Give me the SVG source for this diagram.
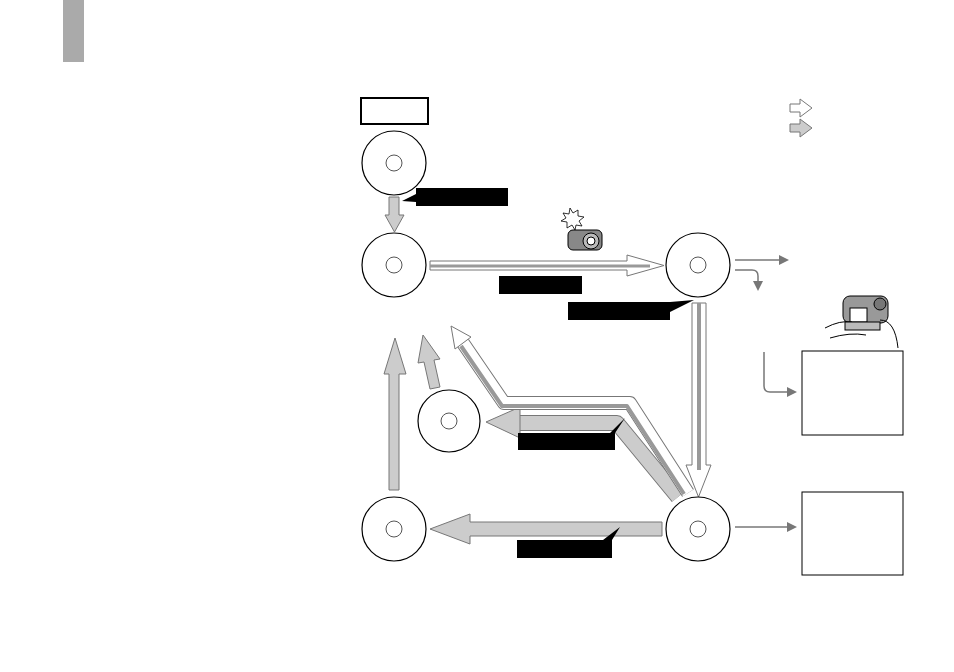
<svg xmlns="http://www.w3.org/2000/svg" width="954" height="672" viewBox="0 0 954 672">
<style>
.disk{fill:#fff;stroke:#000;stroke-width:1.2}
.hole{fill:#fff;stroke:#555;stroke-width:1}
.g{fill:#ccc;stroke:#777;stroke-width:1}
.w{fill:#fff;stroke:#777;stroke-width:1}
.lab{fill:#000}
.thin{fill:none;stroke:#777;stroke-width:1.5}
</style>
<defs>
<marker id="ah2" viewBox="0 0 10 10" markerWidth="10" markerHeight="10" refX="6" refY="5" orient="auto" markerUnits="userSpaceOnUse"><path d="M0,0 L10,5 L0,10z" fill="#777"/></marker>
</defs>
<rect x="63" y="0" width="21" height="62" fill="#aaa"/>
<g id="title"><rect x="361" y="98" width="67" height="26" fill="#fff" stroke="#000" stroke-width="2"/></g>
<g id="legend">
<path class="w" d="M790,104 h10 v-5 l12,9 l-12,9 v-5 h-10z"/>
<path class="g" d="M790,124 h10 v-5 l12,9 l-12,9 v-5 h-10z"/>
</g>
<g id="connectors">
<path class="g" d="M389,197 h10 v18 h5 l-9.5,17 l-9.5,-17 h4z"/>
<path class="lab" d="M416,188 h92 v18 h-92 v-4 l-14,-1 l14,-7z"/>
<path class="w" d="M430,261 h197 v-6 l37,10.5 l-37,10.5 v-6 h-197z"/>
<line x1="430" y1="266" x2="650" y2="266" stroke="#999" stroke-width="3"/>
<rect class="lab" x="499" y="276" width="83" height="18"/>
<path class="lab" d="M568,302 h102 l24,-2 l-24,12 v8 h-102z"/>
<path class="w" d="M692,303 h14 v162 h5 l-12.5,32 l-12.5,-32 h6z"/>
<line x1="699" y1="303" x2="699" y2="470" stroke="#999" stroke-width="4"/>
<path class="g" d="M662,522 h-192 v-8 l-40,15 l40,15 v-8 h192z"/>
<path class="lab" d="M517,540 h86 l17,-13 l-8,13 v18 h-95z"/>
<path d="M678,497 L617,423 H515" fill="none" stroke="#777" stroke-width="16" stroke-linejoin="round"/>
<path d="M678,497 L617,423 H515" fill="none" stroke="#ccc" stroke-width="14" stroke-linejoin="round"/>
<path class="g" d="M520,407 l-34,15 l34,16z"/>
<path class="lab" d="M518,433 h92 l15,-15 l-10,15 v17 h-97z"/>
<path d="M688,493 L630,403 H504 L463,343" fill="none" stroke="#777" stroke-width="14" stroke-linejoin="round"/>
<path d="M688,493 L630,403 H504 L463,343" fill="none" stroke="#fff" stroke-width="12" stroke-linejoin="round"/>
<path d="M684,494 L627,406 H502 L461,346" fill="none" stroke="#999" stroke-width="4" stroke-linejoin="round"/>
<path class="w" d="M471,337 L451,326 L455,349z"/>
<path class="g" d="M389,490 h10 v-116 h7 l-11,-36 l-11,36 h5z"/>
<path class="g" d="M440,387 l-10,2 l-6,-27 l-6,1 l5,-28 l17,24 l-6,1z"/>
<path class="thin" d="M735,260 H785" marker-end="url(#ah2)"/>
<path class="thin" d="M735,270 H752 q6,0 6,6 V287" marker-end="url(#ah2)"/>
<path class="thin" d="M764,352 V386 q0,6 6,6 H793" marker-end="url(#ah2)"/>
<path class="thin" d="M735,527 H793" marker-end="url(#ah2)"/>
</g>
<g id="disk1"><circle class="disk" cx="394" cy="163" r="32"/><circle class="hole" cx="394" cy="163" r="8"/></g>
<g id="disk2"><circle class="disk" cx="394" cy="265" r="32"/><circle class="hole" cx="394" cy="265" r="8"/></g>
<g id="disk3"><circle class="disk" cx="698" cy="265" r="32"/><circle class="hole" cx="698" cy="265" r="8"/></g>
<g id="disk4"><circle class="disk" cx="698" cy="529" r="32"/><circle class="hole" cx="698" cy="529" r="8"/></g>
<g id="disk5"><circle class="disk" cx="394" cy="529" r="32"/><circle class="hole" cx="394" cy="529" r="8"/></g>
<g id="disk6"><circle class="disk" cx="449" cy="421" r="31"/><circle class="hole" cx="449" cy="421" r="8"/></g>
<g id="box1"><rect x="802" y="351" width="101" height="84" fill="#fff" stroke="#000" stroke-width="1"/></g>
<g id="box2"><rect x="802" y="492" width="101" height="83" fill="#fff" stroke="#000" stroke-width="1"/></g>
<g id="camera1">
<path d="M570,208 l3,5 l5,-3 l0,6 l6,1 l-5,4 l3,5 l-6,-1 l-1,5 l-3,-5 l-5,3 l0,-6 l-6,-1 l5,-3 l-3,-5 l6,1z" fill="#fff" stroke="#000" stroke-width="0.8"/>
<rect x="568" y="230" width="34" height="20" rx="5" fill="#888" stroke="#000"/>
<circle cx="591" cy="241" r="8" fill="#bbb" stroke="#000"/>
<circle cx="591" cy="241" r="4" fill="#fff" stroke="#000"/>
</g>
<g id="camera2">
<rect x="843" y="296" width="45" height="27" rx="7" fill="#999" stroke="#000"/>
<rect x="850" y="308" width="17" height="14" fill="#fff" stroke="#000"/>
<circle cx="880" cy="304" r="6" fill="#777" stroke="#000"/>
<path d="M825,328 q15,-8 27,-6 M830,338 q20,-6 36,-3 M880,320 q15,0 18,28" fill="none" stroke="#000"/>
<rect x="845" y="322" width="35" height="8" fill="#bbb" stroke="#000"/>
</g>
</svg>
